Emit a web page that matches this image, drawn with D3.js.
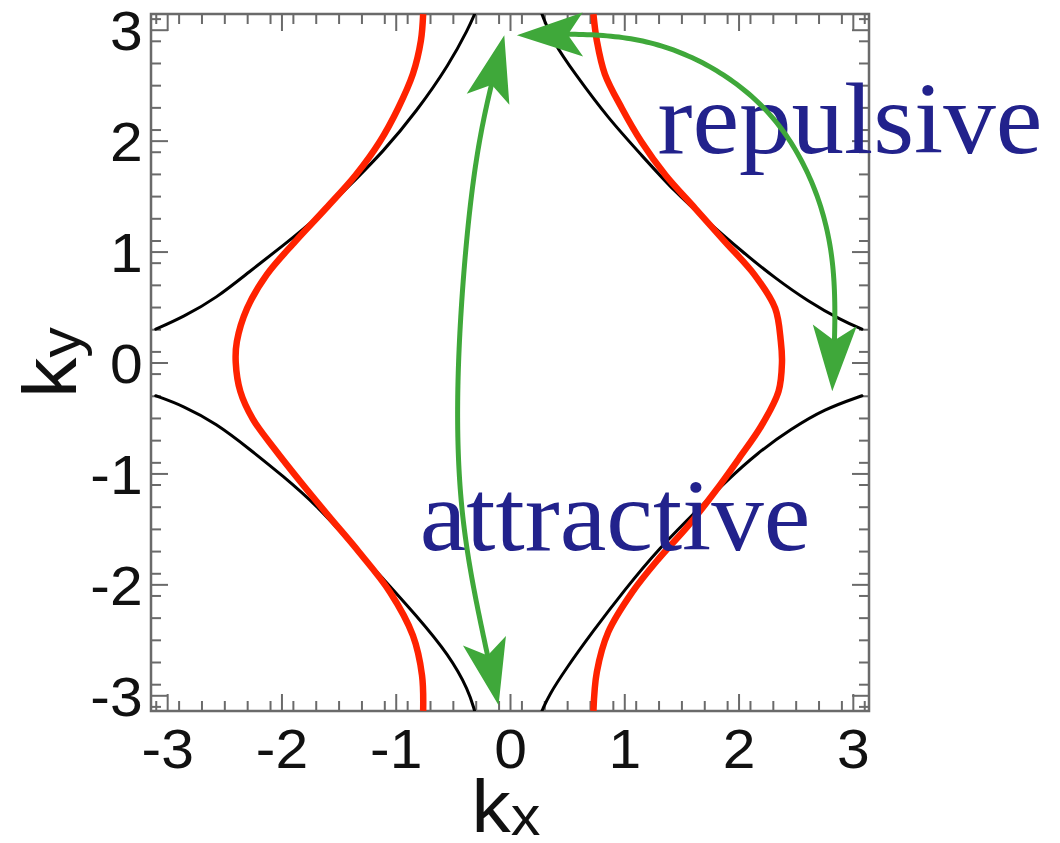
<!DOCTYPE html>
<html>
<head>
<meta charset="utf-8">
<script src="https://cdn.jsdelivr.net/npm/d3@7"></script>
<style>
  body { margin: 0; background: #fff; }
  svg { display: block; }
</style>
</head>
<body>
<div id="chart"></div>
<script>
// ---- data (kx, ky) ----
const xTicks = [-3, -2, -1, 0, 1, 2, 3];
const yTicks = [-3, -2, -1, 0, 1, 2, 3];
const minorTicks = d3.range(-31, 32, 2).map(d => d / 10).filter(d => Math.abs(d) <= 3.1);

const redLeft = [[-0.76,3.14],[-0.78,2.90],[-0.85,2.60],[-0.98,2.29],[-1.14,1.99],[-1.35,1.69],[-1.61,1.39],
  [-1.88,1.09],[-2.13,0.79],[-2.30,0.49],[-2.39,0.19],[-2.40,0.00],[-2.36,-0.26],[-2.25,-0.51],[-2.06,-0.78],
  [-1.83,-1.08],[-1.59,-1.38],[-1.32,-1.71],[-1.05,-2.07],[-0.85,-2.46],[-0.77,-2.82],[-0.76,-3.14]];
const redRight = [[0.73,3.14],[0.76,2.90],[0.83,2.60],[0.98,2.29],[1.15,1.99],[1.36,1.69],[1.62,1.39],
  [1.88,1.09],[2.14,0.79],[2.32,0.49],[2.37,0.19],[2.38,0.00],[2.35,-0.26],[2.20,-0.57],[2.00,-0.87],
  [1.79,-1.17],[1.56,-1.47],[1.30,-1.77],[1.07,-2.07],[0.86,-2.43],[0.76,-2.79],[0.73,-3.14]];

const blackUL = [[-3.10,0.30],[-2.86,0.41],[-2.57,0.58],[-2.28,0.82],[-1.99,1.05],[-1.69,1.30],[-1.40,1.60],
  [-1.11,1.90],[-0.82,2.26],[-0.53,2.69],[-0.36,3.02],[-0.31,3.14]];
const blackLL = [[-3.10,-0.30],[-2.86,-0.39],[-2.57,-0.55],[-2.28,-0.78],[-1.99,-1.02],[-1.69,-1.29],[-1.40,-1.62],
  [-1.11,-1.95],[-0.82,-2.28],[-0.53,-2.64],[-0.36,-2.96],[-0.31,-3.14]];
const blackUR = [[0.28,3.14],[0.37,2.90],[0.57,2.60],[0.86,2.20],[1.15,1.87],[1.44,1.54],[1.73,1.27],
  [2.03,1.00],[2.32,0.76],[2.61,0.55],[2.90,0.38],[3.08,0.30]];
const blackLR = [[3.08,-0.30],[2.75,-0.42],[2.46,-0.60],[2.17,-0.81],[1.88,-1.08],[1.62,-1.35],[1.30,-1.68],
  [1.01,-2.04],[0.72,-2.43],[0.49,-2.76],[0.34,-3.00],[0.28,-3.14]];

// double-headed green arrows
const arrowAttractive = [[-0.05,2.95],[-0.21,2.29],[-0.35,1.39],[-0.45,0.0],[-0.42,-1.32],[-0.25,-2.38],[-0.10,-3.09]];
const arrowRepulsive = [[0.06,2.95],[1.15,2.90],[2.02,2.48],[2.55,1.82],[2.82,0.91],[2.82,-0.26]];

const labels = [
  { text: "repulsive", k: [1.29, 1.89] },
  { text: "attractive", k: [-0.79, -1.69] }
];

// ---- layout ----
const width = 1060, height = 843;
const plot = { left: 151, right: 869, top: 14, bottom: 711 };

const svg = d3.select("#chart").append("svg")
  .attr("width", width)
  .attr("height", height);

const x = d3.scaleLinear().domain([-Math.PI, Math.PI]).range([plot.left, plot.right]);
const y = d3.scaleLinear().domain([-Math.PI, Math.PI]).range([plot.bottom, plot.top]);

svg.append("defs").append("clipPath").attr("id", "clip")
  .append("rect")
  .attr("x", plot.left).attr("y", plot.top)
  .attr("width", plot.right - plot.left).attr("height", plot.bottom - plot.top);

// ticks on all four sides, pointing inward
const tickColor = "#6a6a6a";
function drawAxis(axis, tx, ty) {
  const g = svg.append("g").attr("transform", `translate(${tx},${ty})`).call(axis);
  g.select(".domain").remove();
  g.selectAll(".tick line").attr("stroke", tickColor).attr("stroke-width", 2);
  return g;
}
const minorLen = 10, majorLen = 17;
drawAxis(d3.axisBottom(x).tickValues(minorTicks).tickSize(-minorLen).tickFormat(""), 0, plot.bottom);
drawAxis(d3.axisTop(x).tickValues(minorTicks).tickSize(-minorLen).tickFormat(""), 0, plot.top);
drawAxis(d3.axisLeft(y).tickValues(minorTicks).tickSize(-minorLen).tickFormat(""), plot.left, 0);
drawAxis(d3.axisRight(y).tickValues(minorTicks).tickSize(-minorLen).tickFormat(""), plot.right, 0);
drawAxis(d3.axisTop(x).tickValues(xTicks).tickSize(-majorLen).tickFormat(""), 0, plot.top);
drawAxis(d3.axisRight(y).tickValues(yTicks).tickSize(-majorLen).tickFormat(""), plot.right, 0);

const fmt = d => String(d); // plain hyphen minus, as in the picture
const bottomAx = drawAxis(d3.axisBottom(x).tickValues(xTicks).tickSize(-majorLen).tickPadding(17).tickFormat(fmt), 0, plot.bottom);
const leftAx = drawAxis(d3.axisLeft(y).tickValues(yTicks).tickSize(-majorLen).tickPadding(8).tickFormat(fmt), plot.left, 0);
[bottomAx, leftAx].forEach(g => g.selectAll(".tick text")
  .attr("fill", "#111")
  .style("font-family", "'Liberation Sans', Arial, sans-serif")
  .style("font-size", "56px"));
bottomAx.selectAll(".tick text").attr("transform", "scale(1.05,1)");
leftAx.selectAll(".tick text").attr("dy", "0.36em").attr("transform", "scale(1.05,1)");

// frame
svg.append("rect")
  .attr("x", plot.left).attr("y", plot.top)
  .attr("width", plot.right - plot.left).attr("height", plot.bottom - plot.top)
  .attr("fill", "none").attr("stroke", tickColor).attr("stroke-width", 2.5);

// curves
const smooth = d3.line().x(d => x(d[0])).y(d => y(d[1])).curve(d3.curveBasis);
const through = d3.line().x(d => x(d[0])).y(d => y(d[1])).curve(d3.curveCatmullRom.alpha(0.5));
const curves = svg.append("g").attr("clip-path", "url(#clip)");

[blackUL, blackLL, blackUR, blackLR].forEach(pts => {
  curves.append("path").attr("d", smooth(pts))
    .attr("fill", "none").attr("stroke", "#000").attr("stroke-width", 3)
    .attr("stroke-linecap", "round");
});
[redLeft, redRight].forEach(pts => {
  curves.append("path").attr("d", through(pts))
    .attr("fill", "none").attr("stroke", "#ff2200").attr("stroke-width", 6.5);
});

// annotation text
labels.forEach(l => {
  svg.append("text")
    .attr("transform", `translate(${x(l.k[0])},${y(l.k[1])}) scale(1.04,1)`)
    .attr("fill", "#22228c")
    .style("font-family", "'Liberation Serif', 'Times New Roman', serif")
    .style("font-size", "101px")
    .text(l.text);
});

// green double-headed arrows
const green = "#3fa83a";
const arrowLine = d3.line().x(d => x(d[0])).y(d => y(d[1])).curve(d3.curveNatural);
const headLen = 66, headHalf = 22, notch = 15;

function drawArrow(pts) {
  const tmp = svg.append("path").attr("d", arrowLine(pts)).attr("fill", "none");
  const node = tmp.node();
  const total = node.getTotalLength();
  const shaft = d3.range(headLen * 0.7, total - headLen * 0.7 + 0.1, 4).map(l => {
    const p = node.getPointAtLength(l);
    return [p.x, p.y];
  });
  const heads = [[0, headLen], [total, total - headLen]].map(([tipL, backL]) =>
    [node.getPointAtLength(tipL), node.getPointAtLength(backL)]);
  tmp.remove();

  svg.append("path").attr("d", d3.line()(shaft))
    .attr("fill", "none").attr("stroke", green).attr("stroke-width", 5);

  heads.forEach(([tip, back]) => {
    let dx = tip.x - back.x, dy = tip.y - back.y;
    const len = Math.hypot(dx, dy);
    dx /= len; dy /= len;
    const nx = -dy, ny = dx;
    const bx = tip.x - dx * headLen, by = tip.y - dy * headLen;
    const mx = tip.x - dx * (headLen - notch), my = tip.y - dy * (headLen - notch);
    svg.append("path")
      .attr("d", `M${tip.x},${tip.y}L${bx + nx * headHalf},${by + ny * headHalf}L${mx},${my}L${bx - nx * headHalf},${by - ny * headHalf}Z`)
      .attr("fill", green);
  });
}
drawArrow(arrowAttractive);
drawArrow(arrowRepulsive);

// axis titles
const titleFont = "'Liberation Sans', Arial, sans-serif";
const kx = svg.append("text")
  .attr("transform", `translate(${x(0) - 4},832) scale(1.06,1)`)
  .attr("text-anchor", "middle")
  .attr("fill", "#111")
  .style("font-family", titleFont)
  .style("font-size", "74px");
kx.append("tspan").text("k");
kx.append("tspan").attr("dy", 3).style("font-size", "56px").text("x");

const ky = svg.append("text")
  .attr("transform", `translate(76,${y(0)}) rotate(-90) scale(1.06,1)`)
  .attr("text-anchor", "middle")
  .attr("fill", "#111")
  .style("font-family", titleFont)
  .style("font-size", "76px");
ky.append("tspan").text("k");
ky.append("tspan").attr("dy", 4).style("font-size", "58px").text("y");
</script>
</body>
</html>
